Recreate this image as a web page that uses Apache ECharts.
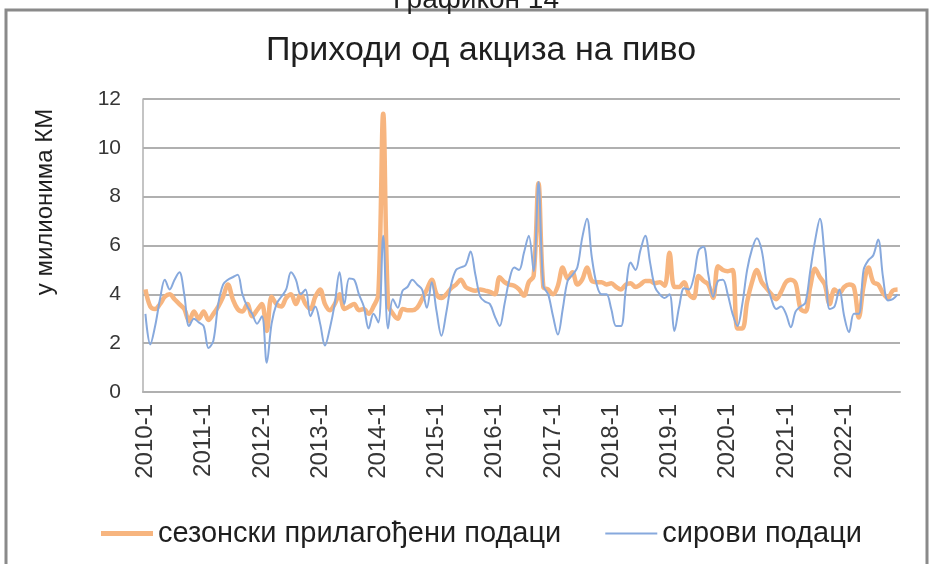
<!DOCTYPE html>
<html>
<head>
<meta charset="utf-8">
<title>Приходи од акциза на пиво</title>
<script src="https://cdn.jsdelivr.net/npm/echarts@6/dist/echarts.min.js"></script>
<style>
    html, body { margin: 0; padding: 0; background: #fff; }
    #chart { width: 933px; height: 564px; }
</style>
</head>
<body>
<div id="chart"></div>
<script>
// godine i mjeseci za oznake kategorija
var godine = [2010, 2011, 2012, 2013, 2014, 2015, 2016, 2017, 2018, 2019, 2020, 2021, 2022];
var mjeseci = [1, 2, 3, 4, 5, 6, 7, 8, 9, 10, 11, 12];

// сезонски прилагођени подаци (мил. КМ), по годинама
var sezonski = [
    4.2, 3.5, 3.4, 3.6, 3.9, 4.0, 3.8, 3.6, 3.4, 2.9, 3.3, 3.0,
    3.3, 2.95, 3.2, 3.5, 3.9, 4.4, 3.8, 3.4, 3.3, 3.6, 3.1, 3.35,
    3.6, 2.5, 3.9, 3.6, 3.5, 3.85, 4.0, 3.6, 4.0, 3.6, 3.4, 3.9,
    4.2, 3.6, 3.35, 3.6, 4.0, 3.4, 3.5, 3.6, 3.35, 3.4, 3.2, 3.5,
    4.0, 11.4, 3.6, 3.2, 3.0, 3.4, 3.35, 3.35, 3.45, 3.8, 4.2, 4.6,
    4.0, 3.85, 4.0, 4.25, 4.4, 4.6, 4.3, 4.2, 4.15, 4.2, 4.15, 4.1,
    4.0, 4.7, 4.5, 4.4, 4.35, 4.2, 3.95, 4.5, 4.75, 8.55, 4.3, 4.2,
    4.0, 4.35, 5.1, 4.65, 4.9, 4.4, 4.6, 5.1, 4.55, 4.5, 4.5, 4.4,
    4.45, 4.3, 4.2, 4.4, 4.45, 4.3, 4.4, 4.55, 4.55, 4.45, 4.5, 4.35,
    5.7, 4.3, 4.3, 4.5, 4.0, 3.85, 4.75, 4.55, 4.4, 3.85, 5.15, 5.0,
    4.95, 5.0, 2.6, 2.6, 3.7, 4.5, 5.0, 4.5, 4.25, 4.0, 3.8, 4.1,
    4.5, 4.6, 4.45, 3.4, 3.3, 4.3, 5.05, 4.7, 4.4, 3.6, 4.2, 4.05,
    4.3, 4.4, 4.3, 3.05, 4.35, 5.1, 4.5, 4.4, 4.05, 3.85, 4.15, 4.2
];

// сирови подаци (мил. КМ)
var sirovi = [
    3.2, 1.95, 2.7, 3.8, 4.6, 4.2, 4.6, 4.9, 4.0, 2.7, 3.0, 2.85,
    2.7, 1.8, 2.1, 3.6, 4.4, 4.6, 4.7, 4.8, 4.0, 3.5, 3.2, 2.8,
    3.1, 1.2, 2.8, 3.6, 3.9, 4.2, 4.9, 4.6, 4.0, 4.2, 3.1, 3.5,
    2.8, 1.9, 2.6, 3.6, 4.9, 3.6, 4.65, 4.6, 4.0, 3.5, 2.6, 3.2,
    2.85, 6.4, 2.6, 3.8, 3.45, 4.15, 4.3, 4.6, 4.4, 4.2, 3.45, 4.5,
    3.3, 2.3, 3.25, 4.4, 5.0, 5.1, 5.2, 5.75, 4.8, 3.9, 3.7, 3.6,
    3.1, 2.7, 3.6, 4.6, 5.1, 5.0, 5.7, 6.4, 4.95, 8.6, 4.35, 4.0,
    3.1, 2.35, 3.4, 4.55, 4.8, 5.1, 6.3, 7.1, 5.5, 4.4, 4.0, 4.0,
    3.4, 2.7, 2.7, 4.2, 5.3, 5.0, 5.8, 6.4, 5.3, 4.3, 4.0, 3.85,
    4.0, 2.5, 3.5, 4.25, 4.2, 4.7, 5.8, 5.95, 4.8, 3.9, 4.55, 4.6,
    4.0, 3.2, 2.7, 3.6, 5.0, 5.85, 6.3, 5.8, 4.5, 3.8, 3.4, 3.5,
    3.2, 2.65, 3.3, 3.5, 3.65, 4.95, 6.2, 7.1, 5.5, 3.4, 3.5, 4.2,
    3.1, 2.45, 3.2, 3.2, 5.0, 5.4, 5.6, 6.25, 4.7, 3.75, 3.8, 4.0
];

var kategorije = [];
for (var g = 0; g < godine.length; g++) {
    for (var m = 0; m < mjeseci.length; m++) {
        kategorije.push(godine[g] + '-' + mjeseci[m]);
    }
}

var font = "'Liberation Sans', Arial, sans-serif";
var sivo = '#b0b0b0';
var narandzasta = '#f7b57f';
var plava = '#87a9dd';

var chart = echarts.init(document.getElementById('chart'));

chart.setOption({
    backgroundColor: '#fff',
    animation: false,
    title: {
        text: 'Приходи од акциза на пиво',
        left: 476,
        textAlign: 'center',
        top: 29,
        textStyle: { fontFamily: font, fontSize: 34, fontWeight: 'normal', color: '#1f1f1f' }
    },
    graphic: [
        {   // okvir grafikona
            type: 'rect', z: -1,
            shape: { x: 6, y: 10, width: 921, height: 620 },
            style: { fill: 'none', stroke: '#8a8a8a', lineWidth: 3 }
        },
        {   // odsjeceni naslov iznad okvira
            type: 'text', x: 476, y: 14,
            style: { text: 'Графикон 14', font: '28px ' + font, fill: '#1f1f1f', textAlign: 'center', textVerticalAlign: 'bottom' }
        },
        {   // naziv y ose
            type: 'text', x: 45, y: 202, rotation: Math.PI / 2,
            style: { text: 'у милионима КМ', font: '24px ' + font, fill: '#1f1f1f', textAlign: 'center', textVerticalAlign: 'middle' }
        }
    ],
    legend: {
        left: 96,
        top: 514,
        itemGap: 44,
        itemWidth: 52,
        itemHeight: 5,
        textStyle: { fontFamily: font, fontSize: 29, color: '#1f1f1f' },
        data: [
            { name: 'сезонски прилагођени подаци', icon: 'rect' },
            { name: 'сирови подаци', icon: 'path://M0,0H50V2H0Z' }
        ]
    },
    grid: { left: 143, right: 33, top: 99, bottom: 172 },
    xAxis: {
        type: 'category',
        data: kategorije,
        boundaryGap: true,
        axisLine: { show: true, lineStyle: { color: sivo, width: 2 } },
        axisTick: { show: false },
        axisLabel: { interval: 11, rotate: 90, margin: 12, fontFamily: font, fontSize: 24, color: '#363636' }
    },
    yAxis: {
        type: 'value',
        min: 0,
        max: 12,
        interval: 2,
        axisLine: { show: true, lineStyle: { color: sivo, width: 1.5 } },
        axisTick: { show: false },
        splitLine: { lineStyle: { color: sivo, width: 2 } },
        axisLabel: { margin: 22, fontFamily: font, fontSize: 21, color: '#363636' }
    },
    series: [
        {
            name: 'сезонски прилагођени подаци',
            type: 'line',
            data: sezonski,
            symbol: 'none',
            smooth: 0.35,
            lineStyle: { color: narandzasta, width: 4.5 },
            itemStyle: { color: narandzasta }
        },
        {
            name: 'сирови подаци',
            type: 'line',
            data: sirovi,
            symbol: 'none',
            smooth: 0.35,
            lineStyle: { color: plava, width: 2 },
            itemStyle: { color: plava }
        }
    ]
});
</script>
</body>
</html>
